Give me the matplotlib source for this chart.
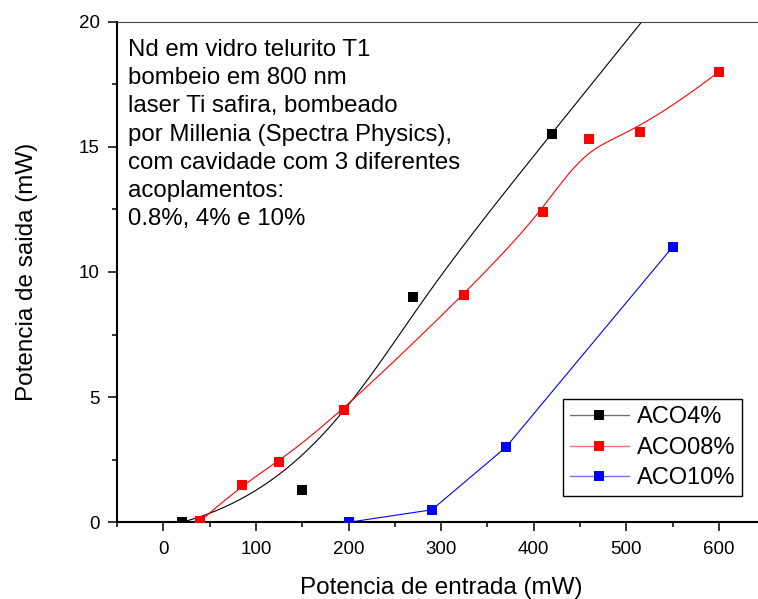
import numpy as np
import matplotlib
matplotlib.use("Agg")
import matplotlib.pyplot as plt
from matplotlib.ticker import MultipleLocator
from matplotlib.lines import Line2D

plt.rcParams['font.family'] = ['Liberation Sans', 'DejaVu Sans']

# ---------------- data ----------------
series_names = ['ACO4%', 'ACO08%', 'ACO10%']
series_colors = ['#000000', '#ff0000', '#0000ff']

# ACO4%: last point lies above the 20 mW top of the plot (curve leaves the frame)
aco4_x = [20, 150, 270, 420, 560]
aco4_y = [0.0, 1.3, 9.0, 15.5, 22.0]

aco08_x = [40, 85, 125, 195, 325, 410, 460, 515, 600]
aco08_y = [0.05, 1.5, 2.4, 4.5, 9.1, 12.4, 15.3, 15.6, 18.0]

aco10_x = [200, 290, 370, 550]
aco10_y = [0.0, 0.5, 3.0, 11.0]

x_ticks = [0, 100, 200, 300, 400, 500, 600]
y_ticks = [0, 5, 10, 15, 20]

note = ("Nd em vidro telurito T1\n"
        "bombeio em 800 nm\n"
        "laser Ti safira, bombeado\n"
        "por Millenia (Spectra Physics),\n"
        "com cavidade com 3 diferentes\n"
        "acoplamentos:\n"
        "0.8%, 4% e 10%")


def bspline(px, py, n=400, k=3):
    """Clamped uniform B-spline using the data points as control points."""
    P = np.column_stack([px, py]).astype(float)
    m = len(P)
    k = min(k, m - 1)
    knots = np.concatenate([np.zeros(k), np.linspace(0, 1, m - k + 1), np.ones(k)])
    u = np.linspace(0, 1, n)
    N = np.zeros((n, len(knots) - 1))
    for i in range(len(knots) - 1):
        N[:, i] = (knots[i] <= u) & (u < knots[i + 1])
    N[-1, :] = 0
    N[-1, m - 1] = 1
    for p in range(1, k + 1):
        Nn = np.zeros((n, len(knots) - 1 - p))
        for i in range(len(knots) - 1 - p):
            d1 = knots[i + p] - knots[i]
            d2 = knots[i + p + 1] - knots[i + 1]
            a = (u - knots[i]) / d1 * N[:, i] if d1 > 0 else 0
            b = (knots[i + p + 1] - u) / d2 * N[:, i + 1] if d2 > 0 else 0
            Nn[:, i] = a + b
        N = Nn
    C = N @ P
    return C[:, 0], C[:, 1]


fig = plt.figure(figsize=(7.58, 5.99), dpi=100)
ax = fig.add_axes([117 / 758, (599 - 522.3) / 599, 648.2 / 758, 500.6 / 599])

lw = 0.8
ms = 7.7

# ACO4% : B-spline curve
bx, by = bspline(aco4_x, aco4_y)
ax.plot(bx, by, color=series_colors[0], lw=lw, zorder=2)
ax.plot(aco4_x, aco4_y, ls='none', marker='s', ms=ms, mew=0,
        color=series_colors[0], zorder=3)

# ACO08% : B-spline curve
rx, ry = bspline(aco08_x, aco08_y)
ax.plot(rx, ry, color=series_colors[1], lw=lw, zorder=2)
ax.plot(aco08_x, aco08_y, ls='none', marker='s', ms=ms, mew=0,
        color=series_colors[1], zorder=3)

# ACO10% : straight segments
ax.plot(aco10_x, aco10_y, color=series_colors[2], lw=lw, zorder=2)
ax.plot(aco10_x, aco10_y, ls='none', marker='s', ms=ms, mew=0,
        color=series_colors[2], zorder=3)

ax.set_xlim(-50, 650)
ax.set_ylim(0, 20)
ax.set_xticks(x_ticks)
ax.set_yticks(y_ticks)
ax.xaxis.set_minor_locator(MultipleLocator(50))
ax.yaxis.set_minor_locator(MultipleLocator(2.5))
ax.tick_params(axis='both', which='major', direction='out', length=6.5,
               width=1.1, labelsize=13.5, color='black')
ax.tick_params(axis='both', which='minor', direction='out', length=3.5,
               width=1.1, color='black')
ax.tick_params(axis='x', which='major', pad=7.3)
ax.tick_params(axis='y', which='major', pad=6)
ax.tick_params(top=False, right=False, which='both')

for s in ['left', 'bottom']:
    ax.spines[s].set_linewidth(1.5)
    ax.spines[s].set_color('black')
ax.spines['top'].set_linewidth(0.8)
ax.spines['top'].set_color('#444444')
ax.spines['right'].set_visible(False)

ax.set_xlabel('Potencia de entrada (mW)', fontsize=17.5)
ax.set_ylabel('Potencia de saida (mW)', fontsize=17.5)
ax.xaxis.set_label_coords(0.5006, -0.1099)
ax.yaxis.set_label_coords(-0.1226, 0.5)

ax.text(0.0174, 0.966, note, transform=ax.transAxes, va='top', ha='left',
        fontsize=17.3, linespacing=1.37)

handles = [(Line2D([], [], color=c, lw=lw + 0.2, alpha=0.55),
            Line2D([], [], ls='none', marker='s', ms=ms, mew=0, color=c))
           for c in series_colors]
leg = fig.legend(handles, series_names, loc='upper left',
                 bbox_to_anchor=(562.7 / 758, 1 - 399.3 / 599),
                 bbox_transform=fig.transFigure, fontsize=17,
                 frameon=True, fancybox=False, framealpha=1,
                 edgecolor='black', borderpad=0.3, labelspacing=0.36,
                 handlelength=2.5, handletextpad=0.34, borderaxespad=0)
leg.get_frame().set_linewidth(1.0)

fig.savefig('out.png', dpi=100)
